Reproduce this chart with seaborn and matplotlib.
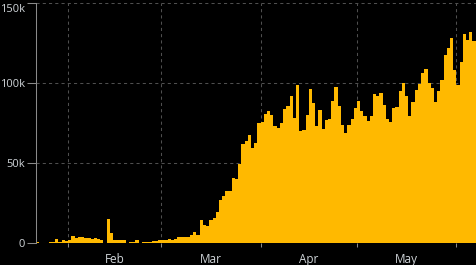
import numpy as np
import pandas as pd
import matplotlib
matplotlib.use("Agg")
import matplotlib.pyplot as plt
import matplotlib.transforms as mtransforms
import seaborn as sns

# ---- data (global daily new cases) ----
start_date = "2020-01-22"
daily_cases = [
    555, 99, 287, 493, 684, 809, 2651, 588, 2068, 1693,            # Jan 22-31
    2111, 4749, 3100, 4011, 3745, 3159, 3593, 2734, 3030, 2609,    # Feb 1-10
    2042, 418, 15153, 6527, 2144, 2183, 2035, 1882, 500, 560,      # Feb 11-20
    631, 1756, 386, 585, 845, 982, 1359, 1368, 1889,               # Feb 21-29
    2358, 1938, 2535, 2280, 2762, 3914, 4036, 3999, 3747, 5000,    # Mar 1-10
    7283, 5000, 14600, 11300, 10900, 14300, 15700, 19500, 27000, 29500,  # Mar 11-20
    32400, 32600, 40800, 40300, 49600, 62000, 64000, 67700, 59600, 62800, 75300,  # Mar 21-31
    75800, 80800, 82700, 80200, 73300, 72300, 75300, 84000, 85800, 92000,  # Apr 1-10
    78300, 99200, 70200, 70800, 80200, 96400, 87700, 73300, 83300, 71500,  # Apr 11-20
    77000, 77600, 88800, 97600, 85800, 73900, 68900, 73900, 77600, 84500,  # Apr 21-30
    88800, 82700, 79600, 76500, 79600, 93300, 91800, 94000, 86500, 77600,  # May 1-10
    75700, 84500, 85100, 95200, 100200, 92000, 79600, 88300, 95800, 99600, # May 11-20
    106400, 109000, 100200, 97000, 88300, 95200, 102000, 117700, 122000, 128300, 108300,  # May 21-31
    99000, 113300, 130800, 127000, 132000, 126400,                 # Jun 1-6
]
month_starts = ["2020-02-01", "2020-03-01", "2020-04-01", "2020-05-01", "2020-06-01"]
month_labels = ["Feb", "Mar", "Apr", "May"]
y_ticks = [0, 50000, 100000, 150000]
y_tick_labels = ["0", "50k", "100k", "150k"]

origin = pd.Timestamp("2020-01-01")
dates = pd.date_range(start_date, periods=len(daily_cases), freq="D")
day_num = np.asarray((dates - origin).days, dtype=float)
# each day's bar covers [day, day + 1)
df = pd.DataFrame({"center": day_num + 0.5, "cases": daily_cases})

month_pos = np.array([(pd.Timestamp(m) - origin).days for m in month_starts], dtype=float)
label_pos = (month_pos[:-1] + month_pos[1:]) / 2.0

# ---- style ----
sns.set_style("dark", rc={
    "axes.facecolor": "black",
    "figure.facecolor": "black",
})
plt.rcParams["font.family"] = ["Open Sans", "DejaVu Sans"]

BAR = "#FFB900"
GRID = "#4f4f4f"
TXT = "#cfd4d8"
AX = "#8a8a8a"

fig = plt.figure(figsize=(4.76, 2.65), dpi=100, facecolor="black")
W, H = 476.0, 265.0
ax = fig.add_axes([36 / W, 1 - 243.3 / H, 440 / W, 240 / H])
ax.set_facecolor("black")

sns.barplot(data=df, x="center", y="cases", native_scale=True, width=1.0,
            color=BAR, saturation=1, errorbar=None,
            linewidth=0, antialiased=False, ax=ax)

ax.set_xlim(21, 158.1)
ax.set_ylim(0, 150000)
ax.set_xlabel("")
ax.set_ylabel("")

# y axis
ax.set_yticks(y_ticks)
ax.set_yticklabels(y_tick_labels)
ax.tick_params(axis="y", which="major", length=6.5, width=0.75, color=AX,
               labelcolor=TXT, labelsize=8, pad=1.5, left=True)
# keep the top label just inside the figure
top_lbl = ax.get_yticklabels()[-1]
top_lbl.set_transform(top_lbl.get_transform() +
                      mtransforms.ScaledTranslation(0, -3.5 / 72, fig.dpi_scale_trans))

# x axis: month boundaries as major ticks (grid), labels at mid-month
ax.set_xticks(month_pos)
ax.set_xticklabels([""] * len(month_pos))
ax.set_xticks(label_pos, minor=True)
ax.set_xticklabels(month_labels, minor=True)
ax.tick_params(axis="x", which="major", length=3, width=0.75, color=AX, bottom=True)
ax.tick_params(axis="x", which="minor", length=0, labelcolor=TXT, labelsize=8.5, pad=7)

ax.grid(True, which="major", axis="both", linestyle=(0, (3, 3)), color=GRID, linewidth=0.75)
ax.grid(False, which="minor")
ax.set_axisbelow(True)

for s in ["top", "right", "bottom"]:
    ax.spines[s].set_visible(False)
ax.spines["left"].set_visible(True)
ax.spines["left"].set_color(AX)
ax.spines["left"].set_linewidth(0.75)

fig.savefig("out.png", dpi=100, facecolor="black")
